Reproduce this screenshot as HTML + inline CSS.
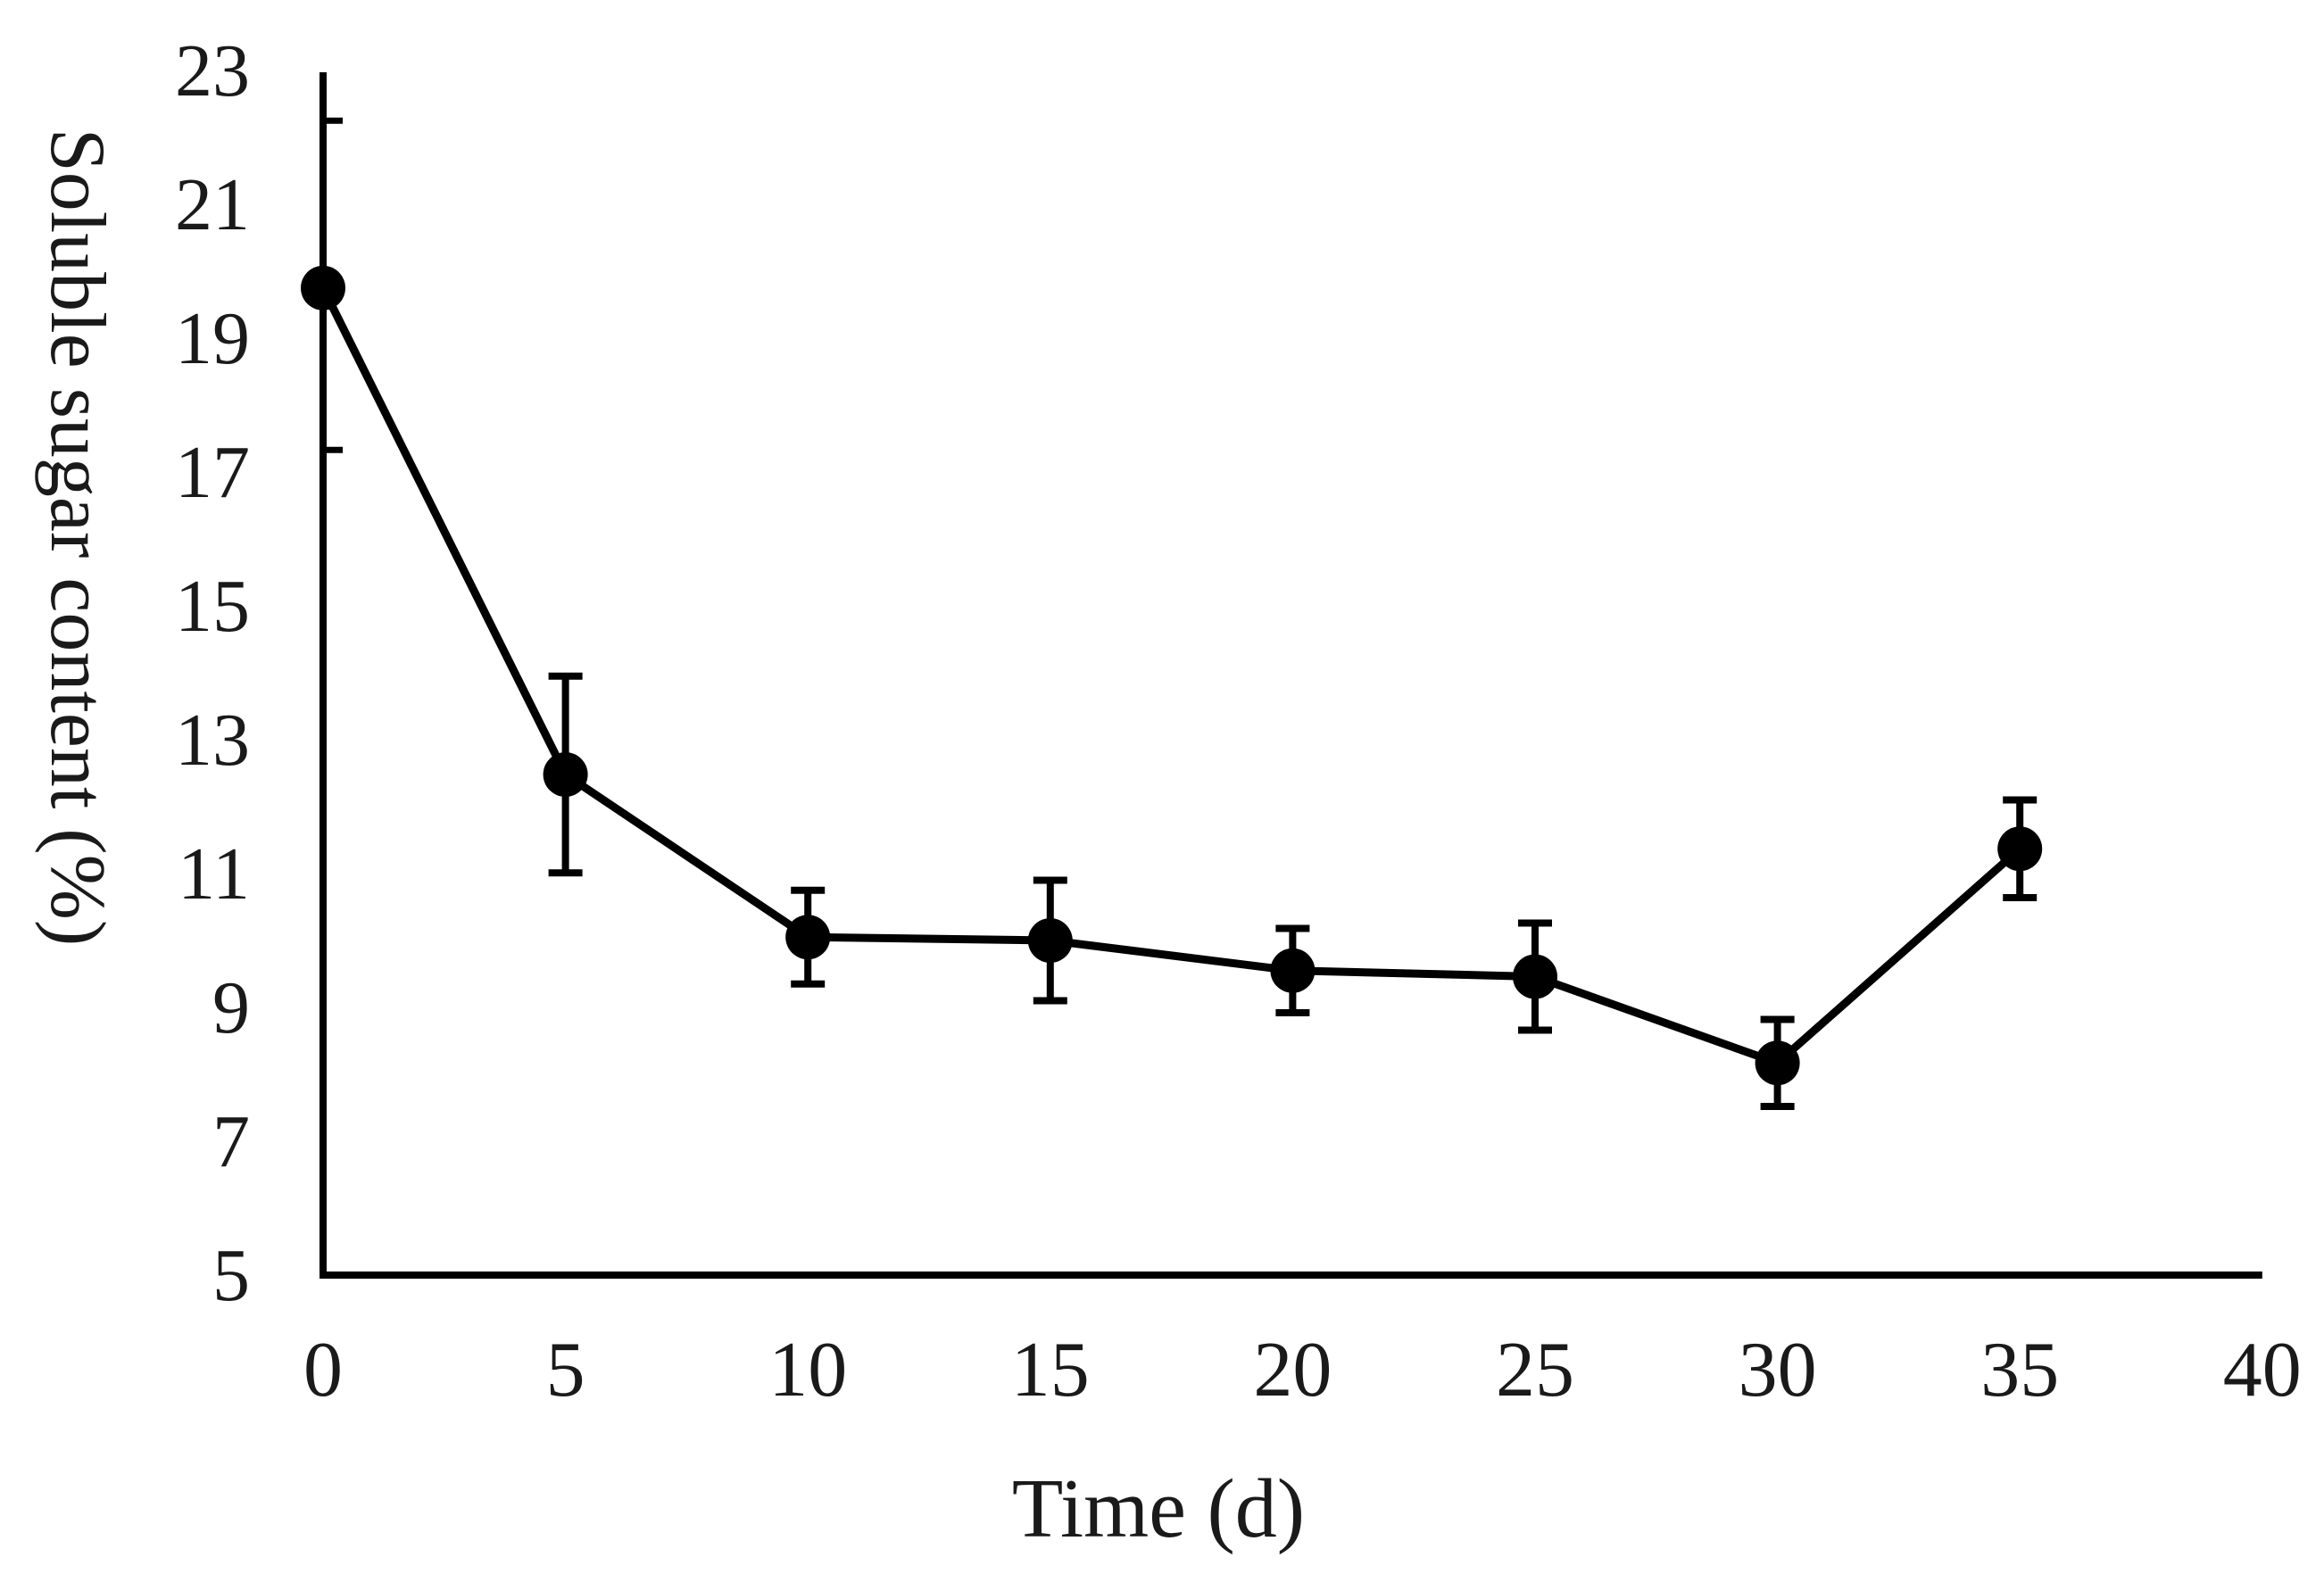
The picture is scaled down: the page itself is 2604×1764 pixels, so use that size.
<!DOCTYPE html>
<html><head><meta charset="utf-8"><style>
html,body{margin:0;padding:0;background:#fff;}
svg{display:block;}
text{font-family:"Liberation Serif","Times New Roman",serif;fill:#1a1a1a;}
</style></head><body>
<svg id="chart" width="2604" height="1764" viewBox="0 0 2604 1764" xmlns="http://www.w3.org/2000/svg">
<g id="axes"></g>
<g id="series"></g>
<text x="1298" y="1722" font-size="94" text-anchor="middle">Time (d)</text>
<text transform="translate(58,602) rotate(90)" font-size="88" text-anchor="middle">Soluble sugar content (%)</text>
</svg>
<script>
const days = [0, 5, 10, 15, 20, 25, 30, 35];
const sugar = [19.75, 12.48, 10.05, 10.0, 9.55, 9.46, 8.17, 11.37];
const errs = [0, 1.47, 0.7, 0.9, 0.63, 0.8, 0.65, 0.73];
const yTicks = ["5","7","9","11","13","15","17","19","21","23"];
const xTicks = ["0","5","10","15","20","25","30","35","40"];
const minorTickVals = [22.25, 17.33];

const X0 = 362, XPER = 271.6 / 5, Y0 = 1429, YPER = 75;
function xs(v){ return X0 + v * XPER; }
function ys(v){ return Y0 - (v - 5) * YPER; }
const NS = "http://www.w3.org/2000/svg";
function mk(tag, attrs, parent){
  const e = document.createElementNS(NS, tag);
  for (const k in attrs) e.setAttribute(k, attrs[k]);
  parent.appendChild(e); return e;
}
const axes = document.getElementById('axes');
const series = document.getElementById('series');

const ya = mk('line', {x1:X0, y1:ys(23)+2, x2:X0, y2:Y0+4, stroke:'#000', 'stroke-width':8}, axes);


const xa = mk('line', {x1:X0-4, y1:Y0, x2:xs(40), y2:Y0, stroke:'#000', 'stroke-width':8}, axes);



minorTickVals.forEach(v => {
  const t = mk('line', {x1:X0, y1:ys(v), x2:X0+22, y2:ys(v), stroke:'#000', 'stroke-width':7}, axes);
  
  
});

yTicks.forEach(s => {
  const t = mk('text', {x:280, y:ys(+s)+28, 'font-size':84, 'text-anchor':'end'}, axes);
  t.textContent = s;
  
  
});
xTicks.forEach(s => {
  const t = mk('text', {x:xs(+s), y:1564, 'font-size':88, 'text-anchor':'middle'}, axes);
  t.textContent = s;
  
  
});

const pts = days.map((d,i) => xs(d) + ',' + ys(sugar[i])).join(' ');
const line = mk('polyline', {points:pts, fill:'none', stroke:'#000', 'stroke-width':9, 'stroke-linejoin':'round'}, series);



days.forEach((d,i) => {
  const cx = xs(d);
  if (errs[i] > 0) {
    const top = ys(sugar[i] + errs[i]), bot = ys(sugar[i] - errs[i]);
    const g = mk('g', {stroke:'#000', 'stroke-width':8}, series);
    
    
    mk('line', {x1:cx, y1:top, x2:cx, y2:bot}, g);
    mk('line', {x1:cx-19, y1:top, x2:cx+19, y2:top}, g);
    mk('line', {x1:cx-19, y1:bot, x2:cx+19, y2:bot}, g);
  }
  const c = mk('circle', {cx:cx, cy:ys(sugar[i]), r:25, fill:'#000'}, series);
  
  
});
</script>
</body></html>
